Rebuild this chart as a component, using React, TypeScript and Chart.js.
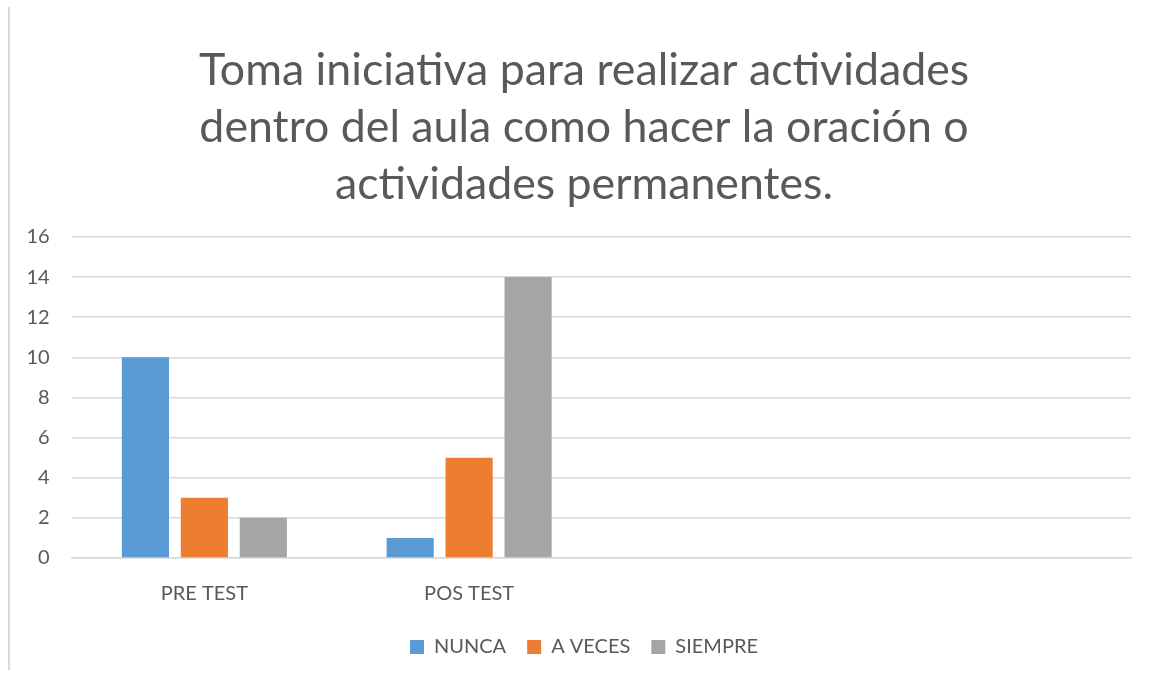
import React, { useEffect, useRef } from "react";
import { Chart, registerables } from "chart.js";

Chart.register(...registerables);

const categories = ["PRE TEST", "POS TEST", "", ""];
const nunca = [10, 1, null, null];
const aVeces = [3, 5, null, null];
const siempre = [2, 14, null, null];
const titleLines = [
  "Toma iniciativa para realizar actividades",
  "dentro del aula como hacer la oración o",
  "actividades permanentes.",
];

export default function App() {
  const ref = useRef<HTMLCanvasElement | null>(null);
  useEffect(() => {
    if (!ref.current) return;
    const font = "Lato, 'Open Sans', sans-serif";
    const chart = new Chart(ref.current, {
      type: "bar",
      data: {
        labels: categories,
        datasets: [
          { label: "NUNCA", data: nunca, backgroundColor: "#5B9BD5" },
          { label: "A VECES", data: aVeces, backgroundColor: "#ED7D31" },
          { label: "SIEMPRE", data: siempre, backgroundColor: "#A5A5A5" },
        ],
      },
      options: {
        animation: false,
        responsive: false,
        datasets: { bar: { categoryPercentage: 0.668, barPercentage: 0.8 } },
        layout: { padding: { left: 37, right: 21, top: 0, bottom: 8 } },
        plugins: {
          title: {
            display: true,
            text: titleLines,
            color: "#595959",
            font: { family: font, size: 44.7, weight: "normal", lineHeight: 1.275 },
            padding: { top: 42, bottom: 24 },
          },
          legend: {
            position: "bottom",
            labels: {
              color: "#595959",
              font: { family: font, size: 20 },
              boxWidth: 14,
              boxHeight: 14,
              padding: 21,
            },
          },
          tooltip: { enabled: false },
        },
        scales: {
          x: {
            afterFit: (scale: any) => {
              scale.height = 58;
            },
            grid: { display: false, drawTicks: false },
            border: { display: true, color: "#d9d9d9", width: 1.5 },
            ticks: { color: "#595959", font: { family: font, size: 20 }, padding: 24 },
          },
          y: {
            min: 0,
            max: 16,
            afterFit: (scale: any) => {
              scale.width = 35;
            },
            ticks: {
              stepSize: 2,
              color: "#595959",
              font: { family: font, size: 20 },
              mirror: true,
              crossAlign: "far",
              padding: -45.5,
            },
            grid: { color: "#d9d9d9", lineWidth: 1.5, drawTicks: false },
            border: { display: false },
          },
        },
      },
    });
    return () => chart.destroy();
  }, []);
  return (
    <div style={{ position: "absolute", left: 0, top: 0, width: 1152, height: 675, background: "#fff" }}>
      <div style={{ position: "absolute", left: 8, top: 7, width: 1.5, height: 663, background: "#d9d9d9" }} />
      <canvas ref={ref} width={1152} height={675} style={{ position: "absolute", left: 0, top: 0 }} />
    </div>
  );
}
